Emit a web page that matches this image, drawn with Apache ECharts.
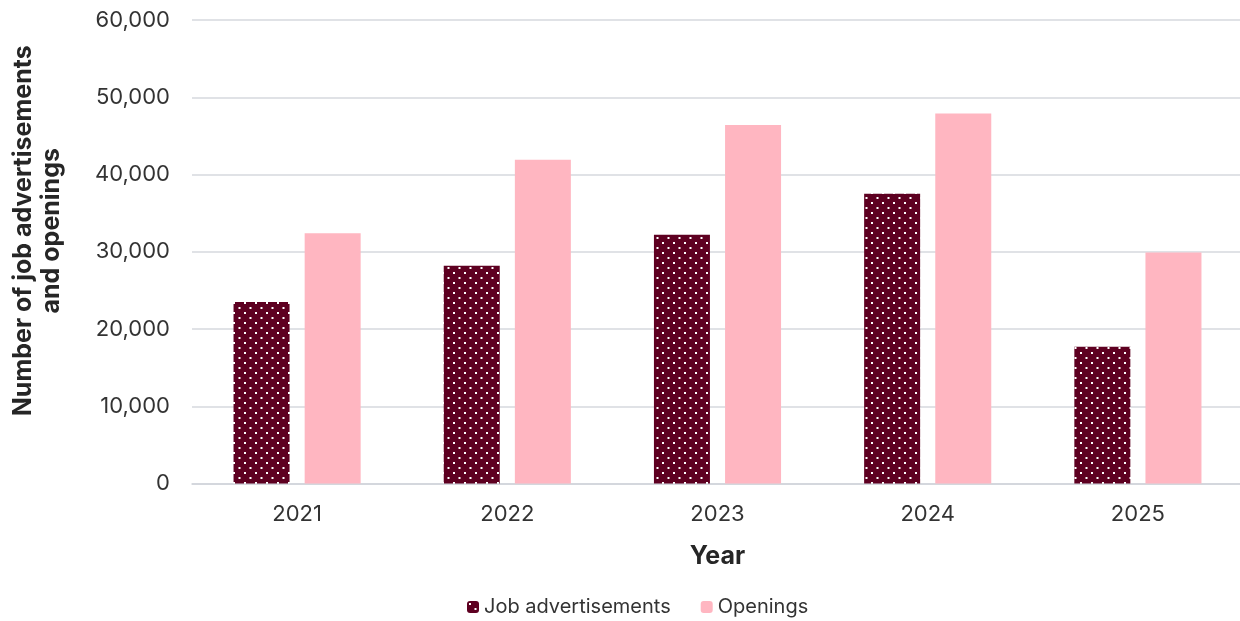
<!DOCTYPE html>
<html>
<head>
<meta charset="utf-8">
<script src="https://cdn.jsdelivr.net/npm/echarts@6/dist/echarts.min.js"></script>
<style>
  html, body { margin: 0; padding: 0; background: #ffffff; }
  #chart { width: 1240px; height: 621px; }
</style>
</head>
<body>
<div id="chart"></div>
<script>
// Job advertisements and openings per year
const years = ['2021', '2022', '2023', '2024', '2025'];
const jobAdvertisements = [23500, 28200, 32200, 37500, 17700];
const openings = [32400, 41900, 46400, 47900, 29900];

const DARK = '#5e0021';
const PINK = '#ffb6c1';
const FONT = 'Inter, "Liberation Sans", sans-serif';

// Dotted fill: white squares on dark red, staggered rows
function dotPattern() {
  const c = document.createElement('canvas');
  c.width = 11; c.height = 10;
  const ctx = c.getContext('2d');
  ctx.fillStyle = DARK;
  ctx.fillRect(0, 0, 11, 10);
  ctx.fillStyle = '#ffffff';
  ctx.fillRect(2, 2, 2, 2);
  ctx.fillRect(7.5, 7, 2, 2);
  return c;
}
const dotFill = { image: dotPattern(), repeat: 'repeat' };

const chart = echarts.init(document.getElementById('chart'), null, { renderer: 'canvas' });
chart.setOption({
  animation: false,
  textStyle: { fontFamily: FONT },
  grid: { left: 192, right: -3, top: 20, bottom: 137.5, outerBoundsMode: 'none', containLabel: false },
  legend: {
    bottom: -1,
    left: 462,
    itemWidth: 12,
    itemHeight: 12,
    itemGap: 30,
    textStyle: { fontSize: 20, color: '#333333', fontFamily: FONT },
    data: [
      { name: 'Job advertisements', itemStyle: { color: dotFill } },
      { name: 'Openings', itemStyle: { color: PINK } }
    ]
  },
  xAxis: {
    type: 'category',
    data: years,
    name: 'Year',
    nameLocation: 'middle',
    nameGap: 60,
    nameTextStyle: { fontSize: 25, fontWeight: 'bold', color: '#262626', fontFamily: FONT },
    axisLine: { lineStyle: { color: '#d0d4da', width: 1.5 } },
    axisTick: { show: false },
    axisLabel: { fontSize: 22, color: '#333333', margin: 20, fontFamily: FONT }
  },
  yAxis: {
    type: 'value',
    min: 0,
    max: 60000,
    interval: 10000,
    name: 'Number of job advertisements\nand openings',
    nameLocation: 'middle',
    nameGap: 127,
    nameTextStyle: {
      fontSize: 25, fontWeight: 'bold', color: '#262626', lineHeight: 28,
      fontFamily: FONT, padding: [0, 0, 0, 42]
    },
    axisLine: { show: false },
    axisTick: { show: false },
    splitLine: { lineStyle: { color: '#d6d9de', width: 1.5 } },
    axisLabel: {
      fontSize: 22,
      color: '#333333',
      margin: 22,
      fontFamily: FONT,
      formatter: v => v.toLocaleString('en-US')
    }
  },
  series: [
    {
      name: 'Job advertisements',
      type: 'bar',
      data: jobAdvertisements,
      barWidth: 56,
      barGap: '27%',
      itemStyle: { color: dotFill }
    },
    {
      name: 'Openings',
      type: 'bar',
      data: openings,
      barWidth: 56,
      itemStyle: { color: PINK }
    }
  ]
});
</script>
</body>
</html>
